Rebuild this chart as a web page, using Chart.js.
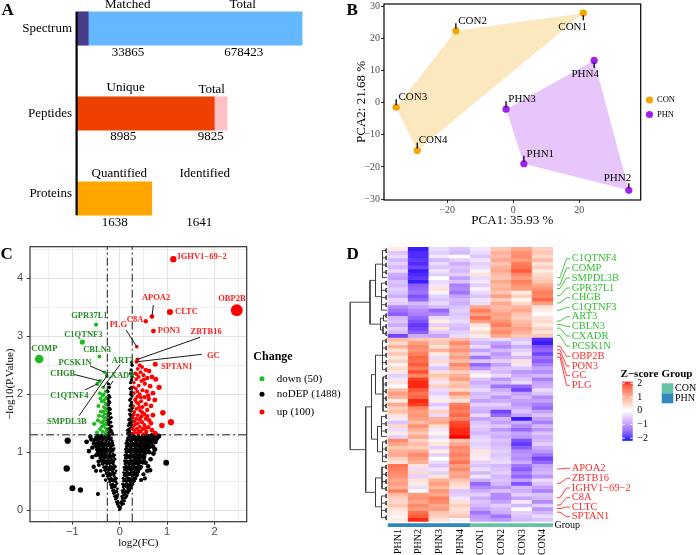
<!DOCTYPE html>
<html>
<head>
<meta charset="utf-8">
<title>Proteomics overview</title>
<script src="https://cdn.jsdelivr.net/npm/chart.js@4.4.1/dist/chart.umd.min.js"></script>
<style>
  html, body { margin: 0; padding: 0; background: #fff; }
  #figure { position: relative; width: 697px; height: 555px; overflow: hidden; background: #fff; }
  #figure canvas { position: absolute; left: 0; top: 0; }
</style>
</head>
<body>
<div id="figure">
  <canvas id="summaryChart" width="697" height="555"></canvas>
  <canvas id="pcaChart" width="697" height="555"></canvas>
  <canvas id="volcanoChart" width="697" height="555"></canvas>
  <canvas id="dendroChart" width="697" height="555"></canvas>
  <canvas id="heatChart" width="697" height="555"></canvas>
</div>
<script>
// ---------- A: identification summary ----------
const summaryRows = ['Spectrum', 'Peptides', 'Proteins'];
const partNames = ['Matched', 'Unique', 'Quantified'];
const totalNames = ['Total', 'Total', 'Identified'];
const partCounts = [33865, 8985, 1638];
const totalCounts = [678423, 9825, 1641];

// ---------- B: PCA ----------
const sampleNames = ['CON1', 'CON2', 'CON3', 'CON4', 'PHN1', 'PHN2', 'PHN3', 'PHN4'];
const sampleGroups = ['CON', 'CON', 'CON', 'CON', 'PHN', 'PHN', 'PHN', 'PHN'];
const pc1 = [21.2, -17.4, -35.5, -29.1, 3.2, 35.0, -2.2, 24.5];
const pc2 = [27.9, 22.4, -1.4, -14.9, -19.0, -27.3, -2.0, 13.2];
const pcVariance = [35.93, 21.68];

// ---------- C: volcano ----------
const changeNames = ['down', 'noDEP', 'up'];
const changeCounts = [50, 1488, 100];
const fcCut = 0.263;
const pCut = 1.301;

const downGenes = ['GPR37L1', 'C1QTNF3', 'COMP', 'CBLN3', 'PCSK1N', 'ART3', 'CHGB', 'CXADR', 'C1QTNF4', 'SMPDL3B'];
const downFC = [-0.50, -0.79, -1.70, -0.43, -0.32, -0.35, -0.42, -0.29, -0.47, -0.27];
const downP = [3.20, 2.90, 2.61, 2.65, 2.38, 2.12, 2.23, 2.05, 2.18, 2.32];

const upGenes = ['IGHV1−69−2', 'OBP2B', 'APOA2', 'C8A', 'CLTC', 'PON3', 'PLG', 'ZBTB16', 'GC', 'SPTAN1'];
const upFC = [1.13, 2.47, 0.68, 0.55, 1.06, 0.71, 0.36, 0.37, 0.35, 0.75];
const upP = [4.33, 3.45, 3.34, 3.26, 3.42, 3.09, 2.82, 2.60, 2.56, 2.52];

const downOther = [
  [-0.30,2.05],[-0.36,1.98],[-0.42,2.02],[-0.31,1.92],[-0.38,1.88],[-0.29,1.82],[-0.34,1.78],[-0.45,1.80],
  [-0.28,1.72],[-0.40,1.70],[-0.32,1.66],[-0.36,1.62],[-0.29,1.60],[-0.44,1.63],[-0.33,1.55],[-0.39,1.52],
  [-0.28,1.50],[-0.54,1.49],[-0.35,1.46],[-0.30,1.42],[-0.42,1.40],[-0.27,1.38],[-0.37,1.36],[-0.31,1.33],
  [-0.29,1.31],[-0.48,1.34],[-0.33,1.90],[-0.30,1.75],[-0.41,1.93],[-0.35,1.70],[-0.28,1.95],[-0.38,1.44],
  [-0.32,1.58],[-0.27,1.66],[-0.46,1.55],[-0.30,1.48],[-0.34,2.00],[-0.29,1.36],[-0.36,1.52],[-0.31,1.85]
];

const upOther = [
  [0.42,2.50],[0.47,2.47],[0.38,2.44],[0.55,2.42],[0.44,2.38],[0.33,2.36],[0.62,2.40],[0.50,2.33],[0.40,2.30],
  [0.58,2.28],[0.35,2.26],[0.68,2.30],[0.46,2.23],[0.76,2.26],[0.30,2.20],[0.53,2.18],[0.40,2.15],[0.64,2.14],
  [0.83,2.12],[0.34,2.10],[0.48,2.07],[0.57,2.05],[0.30,2.02],[0.42,2.00],[0.70,2.02],[0.37,1.96],[0.52,1.95],
  [0.61,1.92],[0.32,1.90],[0.45,1.88],[0.74,1.90],[0.39,1.84],[0.55,1.83],[0.29,1.80],[0.48,1.78],[0.66,1.80],
  [0.35,1.75],[0.43,1.72],[0.58,1.73],[0.31,1.70],[0.52,1.66],[0.91,1.68],[0.38,1.64],[0.46,1.62],[0.70,1.64],
  [0.28,1.60],[0.35,1.58],[0.41,1.56],[0.55,1.58],[0.62,1.55],[0.31,1.53],[0.47,1.52],[0.38,1.50],[1.08,1.52],
  [0.33,1.48],[0.52,1.47],[0.89,1.46],[0.29,1.45],[0.42,1.44],[0.60,1.43],[0.36,1.41],[0.48,1.40],[0.31,1.38],
  [0.44,1.36],[0.68,1.38],[0.56,1.35],[0.33,1.34],[0.39,1.32],[0.50,1.31],[0.28,1.33],[0.75,1.33],[0.37,2.05],
  [0.30,1.65],[0.44,1.95],[0.36,1.86],[0.60,1.98],[0.27,1.40],[0.34,1.92],[0.41,1.78],[0.29,2.12],[0.51,2.25],
  [0.36,2.34],[0.43,1.58],[0.53,1.41],[0.32,1.55],[0.66,1.50],[0.40,1.37],[0.47,1.69],[0.58,1.62],[0.30,1.47]
];

// non-significant proteins, read off the V-shaped cloud (a thinned sample of it)
const noDEP = [
  [-0.01,0.01],[0.01,0.02],[0.02,0.05],[-0.03,0.06],[0.04,0.09],[-0.05,0.10],[0.00,0.04],[0.06,0.12],[-0.02,0.08],
  [-0.07,0.14],[-0.04,0.16],[0.03,0.15],[0.07,0.17],[0.10,0.16],[-0.09,0.19],[0.05,0.20],[0.12,0.21],[-0.06,0.21],
  [-0.11,0.24],[-0.08,0.25],[-0.04,0.27],[0.04,0.24],[0.08,0.26],[0.11,0.28],[0.15,0.25],[-0.13,0.29],[0.06,0.30],
  [0.17,0.30],[-0.10,0.31],
  [-0.15,0.34],[-0.12,0.35],[-0.07,0.33],[-0.05,0.37],[0.05,0.34],[0.09,0.36],[0.13,0.33],[0.17,0.37],[0.21,0.35],
  [-0.17,0.39],[-0.10,0.40],[0.07,0.40],[0.12,0.41],[0.19,0.40],[0.24,0.39],
  [-0.19,0.44],[-0.15,0.45],[-0.11,0.43],[-0.06,0.46],[0.06,0.45],[0.10,0.44],[0.14,0.46],[0.18,0.44],[0.22,0.47],
  [0.27,0.45],[-0.21,0.49],[-0.13,0.50],[-0.08,0.49],[0.08,0.50],[0.15,0.50],[0.20,0.51],[0.30,0.50],
  [-0.23,0.54],[-0.18,0.55],[-0.14,0.53],[-0.10,0.56],[-0.07,0.55],[0.07,0.55],[0.11,0.54],[0.16,0.56],[0.20,0.55],
  [0.24,0.54],[0.29,0.56],[0.33,0.55],[-0.26,0.59],[-0.20,0.60],[-0.12,0.59],[0.09,0.60],[0.13,0.59],[0.18,0.61],
  [0.26,0.60],[0.36,0.60],[0.53,0.55],
  [-0.28,0.64],[-0.24,0.65],[-0.19,0.63],[-0.15,0.66],[-0.10,0.64],[-0.08,0.68],[0.08,0.65],[0.12,0.64],[0.16,0.66],
  [0.21,0.64],[0.25,0.66],[0.30,0.65],[0.35,0.64],[0.39,0.67],[-0.31,0.69],[-0.22,0.70],[-0.17,0.69],[-0.13,0.71],
  [0.10,0.70],[0.14,0.69],[0.19,0.71],[0.23,0.70],[0.28,0.71],[0.33,0.70],[0.64,0.69],[-0.50,0.68],
  [-0.33,0.74],[-0.29,0.75],[-0.25,0.73],[-0.20,0.76],[-0.16,0.74],[-0.12,0.77],[-0.09,0.75],[0.09,0.74],[0.13,0.76],
  [0.17,0.75],[0.22,0.74],[0.26,0.76],[0.31,0.75],[0.36,0.74],[0.40,0.77],[0.45,0.75],[-0.36,0.80],[-0.27,0.80],
  [-0.22,0.81],[-0.14,0.80],[0.11,0.80],[0.15,0.81],[0.20,0.79],[0.24,0.81],[0.29,0.80],[0.34,0.81],[0.39,0.80],
  [0.60,0.76],
  [-0.38,0.85],[-0.34,0.86],[-0.30,0.84],[-0.26,0.86],[-0.21,0.85],[-0.17,0.87],[-0.13,0.85],[-0.10,0.88],[0.10,0.85],
  [0.14,0.86],[0.18,0.84],[0.23,0.86],[0.27,0.85],[0.32,0.87],[0.37,0.85],[0.42,0.86],[0.47,0.84],[0.51,0.87],
  [-0.41,0.90],[-0.32,0.90],[-0.24,0.91],[-0.19,0.90],[-0.15,0.92],[0.12,0.90],[0.16,0.91],[0.21,0.90],[0.25,0.92],
  [0.30,0.90],[0.35,0.91],[0.40,0.90],[0.45,0.92],[0.98,0.82],[-0.45,0.84],
  [-0.43,0.95],[-0.39,0.96],[-0.35,0.94],[-0.31,0.97],[-0.27,0.95],[-0.22,0.96],[-0.18,0.94],[-0.14,0.97],[-0.11,0.95],
  [0.11,0.95],[0.15,0.96],[0.19,0.94],[0.24,0.96],[0.28,0.95],[0.33,0.97],[0.38,0.95],[0.43,0.96],[0.48,0.94],
  [0.53,0.97],[0.71,0.98],[-0.46,1.00],[-0.37,1.00],[-0.29,1.01],[-0.20,1.00],[-0.16,1.02],[0.13,1.00],[0.17,1.01],
  [0.22,1.00],[0.27,1.02],[0.31,1.00],[0.36,1.01],[0.41,1.00],[0.46,1.02],[0.51,1.00],[0.57,1.01],
  [-0.48,1.05],[-0.44,1.06],[-0.40,1.04],[-0.36,1.07],[-0.32,1.05],[-0.28,1.06],[-0.24,1.04],[-0.20,1.07],[-0.16,1.05],
  [-0.12,1.06],[0.12,1.05],[0.16,1.06],[0.20,1.04],[0.24,1.07],[0.29,1.05],[0.34,1.06],[0.39,1.04],[0.44,1.07],
  [0.49,1.05],[0.54,1.06],[0.59,1.04],[-0.50,1.10],[-0.42,1.11],[-0.34,1.10],[-0.26,1.11],[-0.18,1.10],[-0.14,1.12],
  [0.14,1.10],[0.18,1.11],[0.22,1.10],[0.27,1.12],[0.32,1.10],[0.37,1.11],[0.42,1.10],[0.47,1.12],[0.52,1.10],
  [0.57,1.11],[0.62,1.09],[-0.58,1.08],
  [-0.52,1.15],[-0.47,1.16],[-0.43,1.14],[-0.39,1.17],[-0.35,1.15],[-0.31,1.16],[-0.27,1.14],[-0.23,1.17],[-0.19,1.15],
  [-0.15,1.16],[0.13,1.15],[0.17,1.16],[0.21,1.14],[0.25,1.17],[0.30,1.15],[0.35,1.16],[0.40,1.14],[0.45,1.17],
  [0.50,1.15],[0.55,1.16],[0.60,1.14],[0.66,1.17],[-0.54,1.21],[-0.45,1.20],[-0.37,1.21],[-0.29,1.20],[-0.21,1.22],
  [-0.16,1.20],[0.15,1.20],[0.19,1.21],[0.23,1.20],[0.28,1.22],[0.33,1.20],[0.38,1.21],[0.43,1.20],[0.48,1.22],
  [0.53,1.20],[0.58,1.21],[0.63,1.20],[0.68,1.22],[-0.50,1.25],[-0.41,1.26],[-0.33,1.25],[-0.25,1.26],[-0.18,1.25],
  [0.17,1.25],[0.21,1.26],[0.26,1.25],[0.31,1.27],[0.36,1.25],[0.41,1.26],[0.46,1.25],[0.51,1.27],[0.56,1.26],
  [0.62,1.25],[0.72,1.26],[0.78,1.24],[-0.47,1.29],[-0.38,1.29],[-0.30,1.28],[-0.22,1.29],[0.20,1.29],[0.29,1.29],
  [0.39,1.28],[0.49,1.29],[0.59,1.28],[0.68,1.29],[-0.62,1.27],
  [-0.24,1.33],[-0.20,1.35],[-0.16,1.34],[-0.25,1.40],[-0.21,1.42],[-0.17,1.45],[-0.23,1.48],[-0.19,1.52],[-0.25,1.55],
  [-0.21,1.58],[-0.24,1.63],[-0.20,1.67],[-0.25,1.72],[-0.22,1.76],[-0.24,1.82],[-0.21,1.86],[-0.25,1.92],[-0.23,1.98],
  [-0.25,2.05],[-0.22,2.12],[-0.18,1.38],[-0.15,1.31],
  [0.17,1.33],[0.21,1.35],[0.25,1.32],[0.19,1.40],[0.23,1.42],[0.26,1.46],[0.20,1.50],[0.24,1.53],[0.22,1.58],
  [0.25,1.62],[0.21,1.66],[0.24,1.71],[0.26,1.76],[0.22,1.80],[0.25,1.86],[0.23,1.92],[0.26,1.97],[0.24,2.04],
  [0.25,2.12],[0.23,2.20],[0.26,2.30],[0.24,2.42],[0.25,2.55],[0.16,1.38],[0.18,1.46],
  [-1.10,1.20],[-1.12,0.72],[-1.00,0.38],[-0.83,0.35],[-0.46,0.28],[-0.65,1.02],[-0.58,0.92],[-0.55,0.75],
  // second pass over the dense arms
  [-0.05,0.12],[-0.02,0.13],[0.03,0.12],[0.08,0.11],
  [-0.09,0.22],[-0.05,0.23],[0.06,0.22],[0.10,0.21],[0.13,0.23],
  [-0.13,0.32],[-0.09,0.31],[-0.06,0.32],[0.07,0.32],[0.11,0.31],[0.15,0.32],[0.19,0.33],
  [-0.17,0.42],[-0.13,0.41],[-0.09,0.42],[0.08,0.42],[0.12,0.43],[0.16,0.41],[0.20,0.42],[0.24,0.43],
  [-0.20,0.52],[-0.16,0.51],[-0.12,0.52],[-0.09,0.53],[0.09,0.52],[0.13,0.51],[0.18,0.53],[0.22,0.52],[0.27,0.51],[0.31,0.53],
  [-0.26,0.62],[-0.21,0.61],[-0.17,0.62],[-0.12,0.63],[0.10,0.62],[0.14,0.61],[0.19,0.63],[0.23,0.62],[0.28,0.61],[0.32,0.62],[0.37,0.63],
  [-0.30,0.72],[-0.26,0.71],[-0.21,0.72],[-0.17,0.73],[-0.13,0.72],[0.11,0.72],[0.15,0.73],[0.20,0.72],[0.25,0.71],[0.29,0.73],
  [0.34,0.72],[0.38,0.71],[0.43,0.72],
  [-0.35,0.82],[-0.31,0.83],[-0.27,0.82],[-0.23,0.83],[-0.18,0.82],[-0.14,0.83],[0.12,0.82],[0.17,0.83],[0.21,0.82],[0.26,0.83],
  [0.30,0.82],[0.35,0.83],[0.40,0.82],[0.44,0.83],[0.49,0.82],
  [-0.38,0.92],[-0.34,0.93],[-0.29,0.92],[-0.25,0.93],[-0.21,0.92],[-0.17,0.93],[-0.13,0.92],[0.13,0.92],[0.18,0.93],[0.22,0.92],
  [0.27,0.93],[0.32,0.92],[0.37,0.93],[0.42,0.92],[0.47,0.93],[0.52,0.92],
  [-0.42,1.02],[-0.38,1.03],[-0.34,1.02],[-0.30,1.03],[-0.26,1.02],[-0.22,1.03],[-0.18,1.02],[-0.14,1.03],[0.14,1.02],[0.19,1.03],
  [0.24,1.02],[0.29,1.03],[0.34,1.02],[0.39,1.03],[0.44,1.02],[0.49,1.03],[0.54,1.02],
  [-0.46,1.12],[-0.40,1.13],[-0.36,1.12],[-0.32,1.13],[-0.28,1.12],[-0.24,1.13],[-0.20,1.12],[-0.16,1.13],[0.16,1.12],[0.20,1.13],
  [0.25,1.12],[0.30,1.13],[0.35,1.12],[0.40,1.13],[0.45,1.12],[0.50,1.13],[0.55,1.12],[0.60,1.13],
  [-0.48,1.23],[-0.42,1.24],[-0.35,1.23],[-0.27,1.24],[-0.23,1.23],[-0.19,1.24],[0.17,1.23],[0.25,1.22],[0.30,1.24],[0.35,1.23],
  [0.40,1.24],[0.45,1.23],[0.50,1.24],[0.55,1.23],[0.60,1.24],[0.65,1.23],
  [-0.23,1.37],[-0.19,1.44],[-0.22,1.52],[-0.18,1.60],[-0.23,1.68],[-0.20,1.74],[-0.23,1.88],[-0.21,1.95],[-0.24,2.18],
  [0.20,1.37],[0.23,1.48],[0.19,1.56],[0.23,1.64],[0.20,1.73],[0.24,1.82],[0.21,1.90],[0.23,2.00],[0.22,2.10],[0.25,2.25],
  [0.23,2.36],[0.26,2.50],
  [0.65,0.88],[0.70,1.10],[0.75,1.18],[0.58,0.68],[0.50,0.62],[0.45,0.52],[0.55,0.82],[0.62,1.00],[0.82,1.28],[0.74,1.05],
  [-0.55,1.15],[-0.60,1.22],[-0.50,0.95],[-0.44,0.78],[-0.40,0.68],[-0.35,0.60],[-0.30,0.52],[-0.70,1.18]
];

// ---------- D: heatmap of DEPs (z-scores, rows in dendrogram order) ----------
const heatCols = ['PHN1', 'PHN2', 'PHN3', 'PHN4', 'CON1', 'CON2', 'CON3', 'CON4'];
const heatGroups = ['PHN', 'PHN', 'PHN', 'PHN', 'CON', 'CON', 'CON', 'CON'];
const zRows = [
  [0.2,-1.9,-0.3,-0.5,-0.2,0.6,0.9,0.5],
  [-0.5,-1.8,-0.4,-0.6,-0.3,0.8,1.1,0.6],
  [-0.3,-1.8,-0.2,0.0,-0.5,0.7,1.2,0.4],
  [-0.6,-1.7,-0.6,-0.4,-0.2,0.9,1.0,0.7],
  [-0.4,-1.8,-0.3,-0.7,-0.4,0.6,1.3,0.3],
  [-0.6,-1.6,-0.5,-0.5,-0.3,0.8,1.4,0.5],
  [-0.3,-1.9,-0.2,-0.6,-0.1,0.9,1.6,0.2],
  [-0.7,-1.8,-0.4,-0.4,0.3,0.7,1.2,0.4],
  [-0.8,-1.7,0.0,-0.8,-0.3,0.6,1.0,0.5],
  [-0.5,-1.9,-0.3,-0.5,-0.2,0.9,1.3,0.6],
  [-0.6,-1.4,-0.2,-1.1,-0.4,0.7,1.1,0.9],
  [-0.4,-1.3,0.3,-1.0,-0.1,0.8,1.0,1.1],
  [-0.5,-1.2,-0.1,-1.2,-0.3,0.6,0.2,1.3],
  [-0.7,-1.5,-0.4,-0.8,-0.5,1.0,0.5,1.2],
  [-0.3,-1.3,-0.5,-0.6,-0.2,0.5,0.1,1.5],
  [-0.4,-0.6,-0.3,-0.7,-0.3,0.9,0.4,1.0],
  [-1.0,-0.8,-0.6,-0.5,0.9,0.7,0.8,0.3],
  [-1.2,-1.0,-1.3,-0.4,1.3,0.8,0.9,0.2],
  [-1.4,-1.1,-1.0,-0.5,1.0,1.0,0.6,0.0],
  [-0.6,-1.3,-0.3,-0.4,1.4,0.9,0.5,0.3],
  [-0.5,-1.5,0.2,-0.3,1.0,1.1,0.7,0.4],
  [-0.7,-1.7,-0.4,-0.5,0.3,1.3,0.8,0.2],
  [-0.4,-1.6,0.3,-0.6,0.1,1.0,1.0,0.5],
  [-0.6,-1.4,-0.5,-0.4,0.4,1.2,0.8,0.3],
  [-1.6,-0.7,-0.8,-0.3,0.2,0.9,0.6,0.6],
  [0.7,0.6,0.5,0.7,-0.4,-0.3,-0.5,-1.8],
  [0.4,1.0,0.6,1.2,-0.6,-0.8,-0.3,-1.9],
  [0.8,1.2,0.3,0.9,-0.3,-1.0,-0.7,-1.5],
  [0.3,1.1,0.8,1.1,-0.8,-0.6,-0.4,-1.3],
  [0.6,1.3,0.2,0.8,-0.4,-0.9,-0.2,-1.6],
  [0.2,1.5,-0.3,1.0,-1.2,-0.7,-0.6,-1.2],
  [0.5,1.4,0.4,0.7,-0.5,-0.4,0.3,-1.4],
  [0.1,1.6,-0.2,1.2,-1.3,-0.8,-0.2,-1.1],
  [0.4,1.3,-0.5,0.9,-0.9,-0.5,-0.5,-0.8],
  [0.2,1.7,0.3,0.5,-0.3,-0.6,-0.9,-1.0],
  [-0.4,1.2,0.6,0.8,0.1,-0.3,-0.7,-0.6],
  [-0.2,1.8,0.4,1.0,-0.5,-0.9,-0.5,-1.1],
  [0.3,1.9,-0.2,0.6,-0.7,-0.6,-0.3,-0.8],
  [0.0,1.9,0.5,0.7,-0.5,-1.2,-1.3,-0.7],
  [0.7,1.6,-0.3,0.4,-0.3,-0.7,-1.6,-0.3],
  [1.0,1.4,-0.4,1.1,-0.6,-0.5,-0.8,-0.5],
  [0.8,1.5,-0.2,0.6,-0.5,-0.9,-0.6,-1.0],
  [0.2,1.9,0.2,0.3,-0.8,-0.7,-0.8,-0.8],
  [0.9,1.8,-0.5,1.3,-0.4,-0.4,-0.9,-1.1],
  [0.5,1.2,-0.2,1.4,-0.6,-0.6,-0.7,-1.3],
  [0.7,1.0,0.5,1.3,-0.7,-1.6,-0.5,-0.8],
  [0.3,1.1,-0.3,1.5,-0.3,-1.3,-0.8,-0.5],
  [-0.2,1.0,0.8,1.2,-0.8,-0.6,-1.9,-0.8],
  [-0.5,0.7,0.9,1.7,-0.5,-0.8,-0.7,-1.1],
  [0.4,1.1,0.4,1.8,-0.4,-0.5,-1.0,-0.6],
  [-0.3,0.8,-0.2,1.9,-0.5,-0.9,-1.3,-0.9],
  [0.2,0.6,0.1,1.9,-0.6,-0.6,-0.8,-0.5],
  [-0.4,0.9,-0.3,2.0,-0.4,-0.7,-0.9,-0.7],
  [1.2,0.5,-0.1,0.6,-0.3,-0.5,-1.5,-0.6],
  [0.9,0.7,0.3,0.9,-0.4,-0.6,-1.7,-0.4],
  [0.6,0.5,-0.4,1.2,-0.3,-0.5,-1.4,-0.7],
  [0.8,0.9,0.2,1.1,0.3,-0.4,-1.0,-0.9],
  [0.9,1.2,-0.4,1.3,-0.2,-0.5,-0.9,-1.2],
  [0.5,1.0,0.0,1.1,0.2,-0.4,-1.0,-1.6],
  [0.3,0.8,-0.3,1.4,-0.4,-0.3,-0.7,-1.3],
  [1.4,0.3,-0.5,1.0,-0.5,-0.6,-1.2,-0.8],
  [1.3,-0.3,-0.2,1.2,-0.3,-0.5,-1.4,-0.7],
  [1.2,0.4,-0.4,0.9,-0.6,-0.4,-1.1,-0.6],
  [1.1,-0.4,0.3,1.0,-0.2,-0.6,-1.3,-0.9],
  [0.9,0.3,0.8,0.6,-0.7,-0.5,-0.8,-0.3],
  [1.0,0.2,1.0,0.4,-1.3,-0.6,-1.5,-0.5],
  [0.8,-0.3,0.7,0.3,-1.0,-0.9,-0.6,-0.8],
  [1.3,0.0,1.1,-0.5,-0.7,-0.5,-0.7,-1.1],
  [0.7,1.0,0.9,-0.4,-0.4,-1.0,-0.4,-0.5],
  [0.5,1.1,1.3,-0.2,-0.7,-1.0,-0.8,-0.6],
  [0.4,0.9,1.2,0.3,-0.5,-0.8,-0.2,-1.0],
  [0.6,1.2,0.9,0.5,-0.6,-0.4,-0.6,-0.4],
  [0.3,1.0,1.0,0.3,-0.8,-0.6,0.0,-0.9],
  [0.2,1.4,0.6,0.4,-1.2,-0.7,-0.4,-0.6],
  [0.1,1.6,0.5,0.6,-0.9,-1.2,-0.5,-0.3],
  [0.2,1.9,0.3,-0.1,-0.8,-0.9,-0.6,-0.5]
];
// row dendrogram: [height, left, right]; leaf blocks are [height, firstRow, lastRow]
const dendroTree = [37.5,
  [17.5, [12, [5, 0, 8], [6, 9, 17]], [7, [4, 18, 20], [4.5, 21, 24]]],
  [21.8,
    [16, [12, [5, 25, 34], [4.5, 35, 45]], [10, [6, 46, 52], [5, 53, 59]]],
    [12, [5.5, 60, 67], [6, 68, 75]]]];
const markGenes = ['C1QTNF4', 'COMP', 'SMPDL3B', 'GPR37L1', 'CHGB', 'C1QTNF3', 'ART3', 'CBLN3', 'CXADR', 'PCSK1N',
  'OBP2B', 'PON3', 'GC', 'PLG', 'APOA2', 'ZBTB16', 'IGHV1−69−2', 'C8A', 'CLTC', 'SPTAN1'];
const markRows = [8, 10, 11, 13, 15, 17, 20, 21, 22, 24, 27, 28, 29, 30, 61, 65, 69, 71, 72, 73];

// ---------- shared helpers ----------
const SERIF = '"Liberation Serif", "Times New Roman", serif';
const SANS = '"Liberation Sans", Arial, sans-serif';
const minus = v => String(v).replace('-', '\u2212');

function txt(ctx, s, x, y, font, color, align = 'center', base = 'middle') {
  ctx.save();
  ctx.font = font;
  ctx.fillStyle = color;
  ctx.textAlign = align;
  ctx.textBaseline = base;
  ctx.fillText(s, x, y);
  ctx.restore();
}

function line(ctx, pts, color, width) {
  ctx.save();
  ctx.strokeStyle = color;
  ctx.lineWidth = width;
  ctx.beginPath();
  pts.forEach(([x, y], i) => i ? ctx.lineTo(x, y) : ctx.moveTo(x, y));
  ctx.stroke();
  ctx.restore();
}

function baseOptions(padding) {
  return {
    responsive: false,
    animation: false,
    devicePixelRatio: 1,
    events: [],
    layout: { padding },
    plugins: { legend: { display: false }, tooltip: { enabled: false } }
  };
}

// keep the chart area where the padding puts it, even if edge tick labels overflow
const noEdgePad = s => { s.paddingTop = 0; s.paddingBottom = 0; s.paddingLeft = 0; s.paddingRight = 0; };

// ================= A =================
const rowScale = [1, 0.667, 0.333]; // drawn bar length of each row's total
const aText = {
  partX: [127.7, 125.7, 119.3], totalX: [242.7, 211.7, 204.7],
  partY: [4.7, 87.3, 173.3], totalY: [4.7, 90, 173.3],
  partValX: [128, 123.3, 114.7], totalValX: [243.7, 210.7, 199.3],
  valY: [53, 136.7, 222.7], rowDy: [0, 0, -5]
};

const summaryPlugin = {
  id: 'summaryText',
  afterDraw(chart) {
    const ctx = chart.ctx;
    const bars = chart.getDatasetMeta(0).data;
    const top = bars[0].y - bars[0].height / 2;
    const bottom = bars[2].y + bars[2].height / 2;
    line(ctx, [[76.6, top], [76.6, bottom]], '#000', 2.2);
    const f = '13px ' + SERIF;
    summaryRows.forEach((name, i) => {
      txt(ctx, name, 72, bars[i].y + aText.rowDy[i], f, '#000', 'right');
      txt(ctx, partNames[i], aText.partX[i], aText.partY[i], f, '#000');
      txt(ctx, totalNames[i], aText.totalX[i], aText.totalY[i], f, '#000');
      txt(ctx, String(partCounts[i]), aText.partValX[i], aText.valY[i], f, '#000');
      txt(ctx, String(totalCounts[i]), aText.totalValX[i], aText.valY[i], f, '#000');
    });
    txt(ctx, 'A', 1.5, 15, 'bold 17px ' + SERIF, '#000', 'left', 'alphabetic');
  }
};

new Chart(document.getElementById('summaryChart'), {
  type: 'bar',
  data: {
    labels: summaryRows,
    datasets: [
      {
        data: partCounts.map((v, i) => v / totalCounts[i] * rowScale[i]),
        backgroundColor: ['#483d8b', '#ee4000', '#ffa500'],
        barThickness: 33.5, borderWidth: 0, clip: false
      },
      {
        data: totalCounts.map((v, i) => (v - partCounts[i]) / totalCounts[i] * rowScale[i]),
        backgroundColor: ['#63b8ff', '#ffc1c1', '#ffffff'],
        barThickness: 33.5, borderWidth: 0, clip: false
      }
    ]
  },
  options: Object.assign(baseOptions({ left: 77, right: 367, top: 28.5, bottom: 356.5 }), {
    indexAxis: 'y',
    scales: {
      x: { display: false, stacked: true, min: 0, max: 1.124 },
      y: { display: false, stacked: true, offset: false }
    }
  }),
  plugins: [summaryPlugin]
});

// ================= B =================
const groupColor = { CON: '#f5a500', PHN: '#a020f0' };
const hullFill = { CON: 'rgba(245,165,0,0.25)', PHN: 'rgba(160,32,240,0.25)' };
const pcaLabelPos = {
  CON1: { dx: -10.6, dy: 14, align: 'center', seg: [2, 7] },
  CON2: { dx: 2.3, dy: -9.7, align: 'left', seg: [-2, -7.5] },
  CON3: { dx: 2.3, dy: -10, align: 'left', seg: [-2, -8] },
  CON4: { dx: 1.4, dy: -10, align: 'left', seg: [-2, -8] },
  PHN1: { dx: 2.7, dy: -10, align: 'left', seg: [-2, -8] },
  PHN2: { dx: -11.4, dy: -12.6, align: 'center', seg: [-2, -7] },
  PHN3: { dx: 2.3, dy: -9.7, align: 'left', seg: [-2, -8] },
  PHN4: { dx: -9, dy: 14, align: 'center', seg: [2, 7.5] }
};

function convexHull(pts) {
  const p = pts.slice().sort((a, b) => a[0] - b[0] || a[1] - b[1]);
  const cross = (o, a, b) => (a[0] - o[0]) * (b[1] - o[1]) - (a[1] - o[1]) * (b[0] - o[0]);
  const lower = [], upper = [];
  for (const q of p) {
    while (lower.length >= 2 && cross(lower[lower.length - 2], lower[lower.length - 1], q) <= 0) lower.pop();
    lower.push(q);
  }
  for (const q of p.slice().reverse()) {
    while (upper.length >= 2 && cross(upper[upper.length - 2], upper[upper.length - 1], q) <= 0) upper.pop();
    upper.push(q);
  }
  return lower.slice(0, -1).concat(upper.slice(0, -1));
}

const pcaPlugin = {
  id: 'pcaExtras',
  beforeDatasetsDraw(chart) {
    const { ctx, scales: { x, y } } = chart;
    ['CON', 'PHN'].forEach(g => {
      const pts = convexHull(sampleNames.map((n, i) => [pc1[i], pc2[i]]).filter((p, i) => sampleGroups[i] === g));
      ctx.save();
      ctx.beginPath();
      pts.forEach(([a, b], k) => {
        const px = x.getPixelForValue(a), py = y.getPixelForValue(b);
        k ? ctx.lineTo(px, py) : ctx.moveTo(px, py);
      });
      ctx.closePath();
      ctx.fillStyle = hullFill[g];
      ctx.fill();
      ctx.restore();
    });
  },
  afterDatasetsDraw(chart) {
    const { ctx, chartArea: a, scales: { x, y } } = chart;
    sampleNames.forEach((n, i) => {
      const px = x.getPixelForValue(pc1[i]), py = y.getPixelForValue(pc2[i]);
      const L = pcaLabelPos[n];
      line(ctx, [[px, py + L.seg[0]], [px, py + L.seg[1]]], '#000', 1.3);
      txt(ctx, n, px + L.dx, py + L.dy, '11px ' + SERIF, '#000', L.align);
    });
    ctx.save();
    ctx.strokeStyle = '#000';
    ctx.lineWidth = 1.2;
    ctx.strokeRect(a.left, a.top, a.right - a.left, a.bottom - a.top);
    ctx.restore();
  },
  afterDraw(chart) {
    const ctx = chart.ctx;
    ['CON', 'PHN'].forEach((g, k) => {
      const cy = 100 + k * 14.5;
      ctx.save();
      ctx.fillStyle = groupColor[g];
      ctx.beginPath();
      ctx.arc(649.5, cy, 3.6, 0, Math.PI * 2);
      ctx.fill();
      ctx.restore();
      txt(ctx, g, 657, cy, '8.5px ' + SERIF, '#000', 'left');
    });
    txt(ctx, 'B', 346.5, 15, 'bold 17px ' + SERIF, '#000', 'left', 'alphabetic');
  }
};

const pcaTicks = { font: { family: SERIF, size: 10 }, color: '#4d4d4d', padding: 1, callback: v => minus(v) };
const pcaGrid = { display: true, drawOnChartArea: false, drawTicks: true, tickLength: 3, color: '#333', tickColor: '#333' };

new Chart(document.getElementById('pcaChart'), {
  type: 'scatter',
  data: {
    datasets: ['CON', 'PHN'].map(g => ({
      data: sampleNames.map((n, i) => ({ x: pc1[i], y: pc2[i], g: sampleGroups[i] })).filter(p => p.g === g),
      backgroundColor: groupColor[g], pointBackgroundColor: groupColor[g],
      pointRadius: 3.6, pointBorderWidth: 0
    }))
  },
  options: Object.assign(baseOptions({ left: 353.9, right: 56.3, top: 1.5, bottom: 326.5 }), {
    scales: {
      x: {
        type: 'linear', min: -39.18, max: 38.6,
        afterBuildTicks: s => { s.ticks = [-20, 0, 20].map(v => ({ value: v })); },
        ticks: pcaTicks, grid: pcaGrid, border: { display: false },
        title: { display: true, text: 'PCA1: ' + pcVariance[0].toFixed(2) + ' %', font: { family: SERIF, size: 13 }, color: '#000', padding: 0 },
        afterFit: s => { s.height = 28.5; noEdgePad(s); }
      },
      y: {
        type: 'linear', min: -30.3, max: 30.77,
        afterBuildTicks: s => { s.ticks = [-30, -20, -10, 0, 10, 20, 30].map(v => ({ value: v })); },
        ticks: pcaTicks, grid: pcaGrid, border: { display: false },
        title: { display: true, text: 'PCA2: ' + pcVariance[1].toFixed(2) + ' %', font: { family: SERIF, size: 13 }, color: '#000', padding: 0 },
        afterFit: s => { s.width = 30.1; noEdgePad(s); }
      }
    }
  }),
  plugins: [pcaPlugin]
});

// ================= C =================
const volcX = [-1.895, 2.68];
const volcY = [-0.197, 4.545];
const changeColor = { down: '#1fba1f', noDEP: '#000000', up: '#ff0000' };
// label text offsets (px) from the point, optional leader start offsets
const volcLabelPos = {
  'GPR37L1': { dx: -6.7, dy: -8.7 },
  'C1QTNF3': { dx: 1, dy: -7.8 },
  'COMP': { dx: 5.1, dy: -10.2 },
  'CBLN3': { dx: -2.3, dy: -6.6 },
  'PCSK1N': { dx: -29.6, dy: -9.6, lx: -14.6, ly: -6.3 },
  'ART3': { dx: 19.6, dy: -27, lx: 16.9, ly: -22.8 },
  'CHGB': { dx: -37.1, dy: -7, lx: -26.5, ly: -6.7 },
  'CXADR': { dx: 14, dy: -15.7, lx: 7, ly: -10.4 },
  'C1QTNF4': { dx: -28.2, dy: 11.8, lx: -12.5, ly: 6.1 },
  'SMPDL3B': { dx: -40.2, dy: 46.3, lx: -27.9, ly: 40 },
  'IGHV1−69−2': { dx: 4.1, dy: -2.5, align: 'left' },
  'OBP2B': { dx: -4.9, dy: -11.9 },
  'APOA2': { dx: 4.1, dy: -18.3, lx: 1.4, ly: -11.6 },
  'C8A': { dx: -10.7, dy: -1.9 },
  'CLTC': { dx: 5.1, dy: 0.2, align: 'left' },
  'PON3': { dx: 4.4, dy: -0.4, align: 'left' },
  'PLG': { dx: -18.4, dy: -21.7, lx: -10.7, ly: -16.7 },
  'ZBTB16': { dx: 68.8, dy: -27.2, lx: 62.8, ly: -22.2 },
  'GC': { dx: 77, dy: -6.1, lx: 65.4, ly: -7.5 },
  'SPTAN1': { dx: 21.5, dy: 2.6 }
};

const volcPlugin = {
  id: 'volcExtras',
  afterDatasetsDraw(chart) {
    const { ctx, chartArea: a, scales: { x, y } } = chart;
    ctx.save();
    ctx.strokeStyle = '#333';
    ctx.lineWidth = 1.2;
    ctx.strokeRect(a.left, a.top, a.right - a.left, a.bottom - a.top);
    ctx.restore();
    const sets = [[downGenes, downFC, downP, '#238b23'], [upGenes, upFC, upP, '#ff1f1f']];
    sets.forEach(([genes, fc, p, color]) => {
      genes.forEach((g, i) => {
        const px = x.getPixelForValue(fc[i]), py = y.getPixelForValue(p[i]);
        const L = volcLabelPos[g];
        if (L.lx !== undefined) line(ctx, [[px + L.lx, py + L.ly], [px, py]], '#000', 0.9);
        txt(ctx, g, px + L.dx, py + L.dy, 'bold 8.5px ' + SERIF, color, L.align || 'center');
      });
    });
  },
  afterDraw(chart) {
    const ctx = chart.ctx;
    txt(ctx, 'Change', 253.3, 357.3, 'bold 12px ' + SERIF, '#000', 'left');
    const ys = [378.7, 394.3, 412];
    changeNames.forEach((n, i) => {
      ctx.save();
      ctx.fillStyle = changeColor[n];
      ctx.beginPath();
      ctx.arc(262, ys[i], 2.5, 0, Math.PI * 2);
      ctx.fill();
      ctx.restore();
      txt(ctx, n + ' (' + changeCounts[i] + ')', 276.7, ys[i], '11px ' + SERIF, '#000', 'left');
    });
    txt(ctx, 'C', 0.5, 258.5, 'bold 17px ' + SERIF, '#000', 'left', 'alphabetic');
  }
};

const ptRadius = c => { const v = Math.abs(c.raw.x); return 1.3 + 1.5 * v + 0.15 * v * v; };
const cutLine = pts => ({
  data: pts, showLine: true, pointRadius: 0, borderColor: '#1a1a1a',
  borderWidth: 1, borderDash: [8, 3, 2, 3], fill: false
});
const toPts = arr => arr.map(([a, b]) => ({ x: a, y: b }));
const isInt = v => Math.abs(v - Math.round(v)) < 1e-9;
const volcGrid = {
  color: c => isInt(c.tick.value) ? '#e3e3e3' : '#efefef',
  tickColor: c => isInt(c.tick.value) ? '#333' : 'rgba(0,0,0,0)',
  tickLength: 3, lineWidth: 1
};
const volcTicks = {
  font: { family: SANS, size: 11 }, color: '#4d4d4d', autoSkip: false, maxRotation: 0,
  callback: v => isInt(v) ? minus(Math.round(v)) : ''
};

new Chart(document.getElementById('volcanoChart'), {
  type: 'scatter',
  data: {
    datasets: [
      cutLine([{ x: -fcCut, y: volcY[0] }, { x: -fcCut, y: volcY[1] }]),
      cutLine([{ x: fcCut, y: volcY[0] }, { x: fcCut, y: volcY[1] }]),
      cutLine([{ x: volcX[0], y: pCut }, { x: volcX[1], y: pCut }]),
      {
        data: toPts(upOther).concat(upFC.map((v, i) => ({ x: v, y: upP[i] }))),
        backgroundColor: changeColor.up, pointBackgroundColor: changeColor.up, pointRadius: ptRadius, pointBorderWidth: 0
      },
      {
        data: toPts(downOther).concat(downFC.map((v, i) => ({ x: v, y: downP[i] }))),
        backgroundColor: changeColor.down, pointBackgroundColor: changeColor.down, pointRadius: ptRadius, pointBorderWidth: 0
      },
      {
        data: toPts(noDEP),
        backgroundColor: changeColor.noDEP, pointBackgroundColor: changeColor.noDEP, pointRadius: ptRadius, pointBorderWidth: 0
      }
    ]
  },
  options: Object.assign(baseOptions({ left: 3.4, right: 450.3, top: 246.7, bottom: 5.1 }), {
    scales: {
      x: {
        type: 'linear', min: volcX[0], max: volcX[1],
        afterBuildTicks: s => { s.ticks = [-1.5, -1, -0.5, 0, 0.5, 1, 1.5, 2, 2.5].map(v => ({ value: v })); },
        ticks: Object.assign({ padding: 1 }, volcTicks), grid: volcGrid, border: { display: false },
        title: { display: true, text: 'log2(FC)', font: { family: SERIF, size: 11 }, color: '#000', padding: 0 },
        afterFit: s => { s.height = 28.2; noEdgePad(s); }
      },
      y: {
        type: 'linear', min: volcY[0], max: volcY[1],
        afterBuildTicks: s => { s.ticks = [0, 0.5, 1, 1.5, 2, 2.5, 3, 3.5, 4, 4.5].map(v => ({ value: v })); },
        ticks: Object.assign({ padding: 4 }, volcTicks), grid: volcGrid, border: { display: false },
        title: { display: true, text: '\u2212log10(P.Value)', font: { family: SERIF, size: 11 }, color: '#000', padding: 0 },
        afterFit: s => { s.width = 26.6; noEdgePad(s); }
      }
    }
  }),
  plugins: [volcPlugin]
});

// ================= D =================
function srgbToLin(c) { c /= 255; return c <= 0.04045 ? c / 12.92 : Math.pow((c + 0.055) / 1.055, 2.4); }
function linToSrgb(v) { v = Math.min(1, Math.max(0, v)); return 255 * (v <= 0.0031308 ? 12.92 * v : 1.055 * Math.pow(v, 1 / 2.4) - 0.055); }
function rgbToLab([r, g, b]) {
  r = srgbToLin(r); g = srgbToLin(g); b = srgbToLin(b);
  const X = (0.4124 * r + 0.3576 * g + 0.1805 * b) / 0.95047;
  const Y = 0.2126 * r + 0.7152 * g + 0.0722 * b;
  const Z = (0.0193 * r + 0.1192 * g + 0.9505 * b) / 1.08883;
  const f = t => t > 0.008856 ? Math.cbrt(t) : 7.787 * t + 16 / 116;
  const fx = f(X), fy = f(Y), fz = f(Z);
  return [116 * fy - 16, 500 * (fx - fy), 200 * (fy - fz)];
}
function labToRgb([L, A, B]) {
  const fy = (L + 16) / 116, fx = fy + A / 500, fz = fy - B / 200;
  const fi = t => t * t * t > 0.008856 ? t * t * t : (t - 16 / 116) / 7.787;
  const X = 0.95047 * fi(fx), Y = fi(fy), Z = 1.08883 * fi(fz);
  return [
    linToSrgb(3.2406 * X - 1.5372 * Y - 0.4986 * Z),
    linToSrgb(-0.9689 * X + 1.8758 * Y + 0.0415 * Z),
    linToSrgb(0.0557 * X - 0.2040 * Y + 1.0570 * Z)
  ];
}
const LAB_BLUE = rgbToLab([0, 0, 255]), LAB_WHITE = rgbToLab([255, 255, 255]), LAB_RED = rgbToLab([255, 0, 0]);
function zColor(z) {
  const t = Math.max(-2, Math.min(2, z)) / 2;
  const end = t < 0 ? LAB_BLUE : LAB_RED, k = Math.abs(t);
  const rgb = labToRgb(LAB_WHITE.map((w, i) => w + (end[i] - w) * k));
  return 'rgb(' + rgb.map(Math.round).join(',') + ')';
}

const nRows = zRows.length;
const yMax = nRows + 1.6;
const annoColor = { CON: '#66c2a5', PHN: '#3288bd' };
const markLabelY = [258.7, 268, 278, 288, 297.7, 307.3, 316.7, 326.3, 336, 346,
  356.3, 366, 375.7, 385.3, 468.3, 478.3, 488, 497.7, 507, 516.7];

const heatPlugin = {
  id: 'heatExtras',
  afterDraw(chart) {
    const { ctx, chartArea: a, scales: { y } } = chart;
    markGenes.forEach((g, i) => {
      const sy = y.getPixelForValue(markRows[i] + 0.5), ly = markLabelY[i];
      const col = upGenes.includes(g) ? '#ff2a2a' : '#2fbf2f';
      line(ctx, [[a.right + 4, sy], [a.right + 7, sy], [a.right + 13.5, ly], [a.right + 17, ly]], col, 0.9);
      txt(ctx, g, a.right + 18.7, ly, '10.5px ' + SERIF, col, 'left');
    });
    txt(ctx, 'Group', a.right + 1.5, y.getPixelForValue(nRows + 1.15), '10px ' + SERIF, '#000', 'left');

    // z-score colour bar
    const zy = z => 410.7 - z * 13.75;
    for (let py = 381.7; py < 440; py += 1) {
      ctx.fillStyle = zColor((410.7 - (py + 0.5)) / 13.75);
      ctx.fillRect(622.3, py, 10.4, 1.05);
    }
    [2, 1, 0, -1, -2].forEach(z => {
      line(ctx, [[622.3, zy(z)], [624.8, zy(z)]], '#fff', 1);
      line(ctx, [[630.2, zy(z)], [632.7, zy(z)]], '#fff', 1);
      txt(ctx, minus(z), 637.3, zy(z), '10px ' + SERIF, '#000', 'left');
    });
    txt(ctx, 'Z\u2212score', 620.5, 374.3, 'bold 11px ' + SERIF, '#000', 'left');
    txt(ctx, 'Group', 661.5, 374.3, 'bold 11px ' + SERIF, '#000', 'left');
    ['CON', 'PHN'].forEach((g, k) => {
      ctx.fillStyle = annoColor[g];
      ctx.fillRect(661.7, 383.3 + k * 10, 11.6, 10);
      txt(ctx, g, 675, 388.3 + k * 10, '10px ' + SERIF, '#000', 'left');
    });
    txt(ctx, 'D', 346.5, 258.5, 'bold 17px ' + SERIF, '#000', 'left', 'alphabetic');
  }
};

const heatDatasets = zRows.map((row, r) => ({
  data: row.map(() => [r, r + 1]),
  backgroundColor: row.map(zColor)
}));
heatDatasets.push({
  data: heatGroups.map(() => [nRows + 0.7, nRows + 1.6]),
  backgroundColor: heatGroups.map(g => annoColor[g])
});

new Chart(document.getElementById('heatChart'), {
  type: 'bar',
  data: { labels: heatCols, datasets: heatDatasets },
  options: Object.assign(baseOptions({ left: 387.7, right: 144, top: 247, bottom: 0 }), {
    datasets: { bar: { grouped: false, barPercentage: 1, categoryPercentage: 1, borderWidth: 0, inflateAmount: 0.5 } },
    scales: {
      x: {
        type: 'category', offset: true,
        grid: { display: false, drawTicks: false }, border: { display: false },
        ticks: { font: { family: SERIF, size: 10 }, color: '#000', padding: 2, minRotation: 90, maxRotation: 90, autoSkip: false },
        afterFit: s => { s.height = 28; noEdgePad(s); }
      },
      y: { display: false, type: 'linear', min: 0, max: yMax, reverse: true }
    }
  }),
  plugins: [heatPlugin]
});

// row dendrogram, drawn as line segments on its own height/row scales
function dendroSegments(node, segs) {
  if (typeof node[1] === 'number') {
    const [h, s, e] = node;
    const subs = [];
    for (let r = s; r <= e; r += 2) {
      if (r < e) {
        segs.push([[0, r + 0.5], [1.5, r + 0.5], [1.5, r + 1.5], [0, r + 1.5]]);
        subs.push({ y: r + 1, h: 1.5 });
      } else {
        subs.push({ y: r + 0.5, h: 0 });
      }
    }
    subs.forEach(c => segs.push([[c.h, c.y], [h, c.y]]));
    segs.push([[h, subs[0].y], [h, subs[subs.length - 1].y]]);
    return { y: (subs[0].y + subs[subs.length - 1].y) / 2, h };
  }
  const [h, left, right] = node;
  const ca = dendroSegments(left, segs), cb = dendroSegments(right, segs);
  segs.push([[ca.h, ca.y], [h, ca.y], [h, cb.y], [cb.h, cb.y]]);
  return { y: (ca.y + cb.y) / 2, h };
}
const dendroSegs = [];
dendroSegments(dendroTree, dendroSegs);

new Chart(document.getElementById('dendroChart'), {
  type: 'scatter',
  data: {
    datasets: dendroSegs.map(seg => ({
      data: seg.map(([h, r]) => ({ x: h, y: r })),
      showLine: true, pointRadius: 0, borderColor: '#3a3a3a', borderWidth: 0.9, fill: false
    }))
  },
  options: Object.assign(baseOptions({ left: 349.5, right: 309.5, top: 247, bottom: 28 }), {
    scales: {
      x: { display: false, type: 'linear', min: 0, max: 38, reverse: true },
      y: { display: false, type: 'linear', min: 0, max: yMax, reverse: true }
    }
  })
});
</script>
</body>
</html>
